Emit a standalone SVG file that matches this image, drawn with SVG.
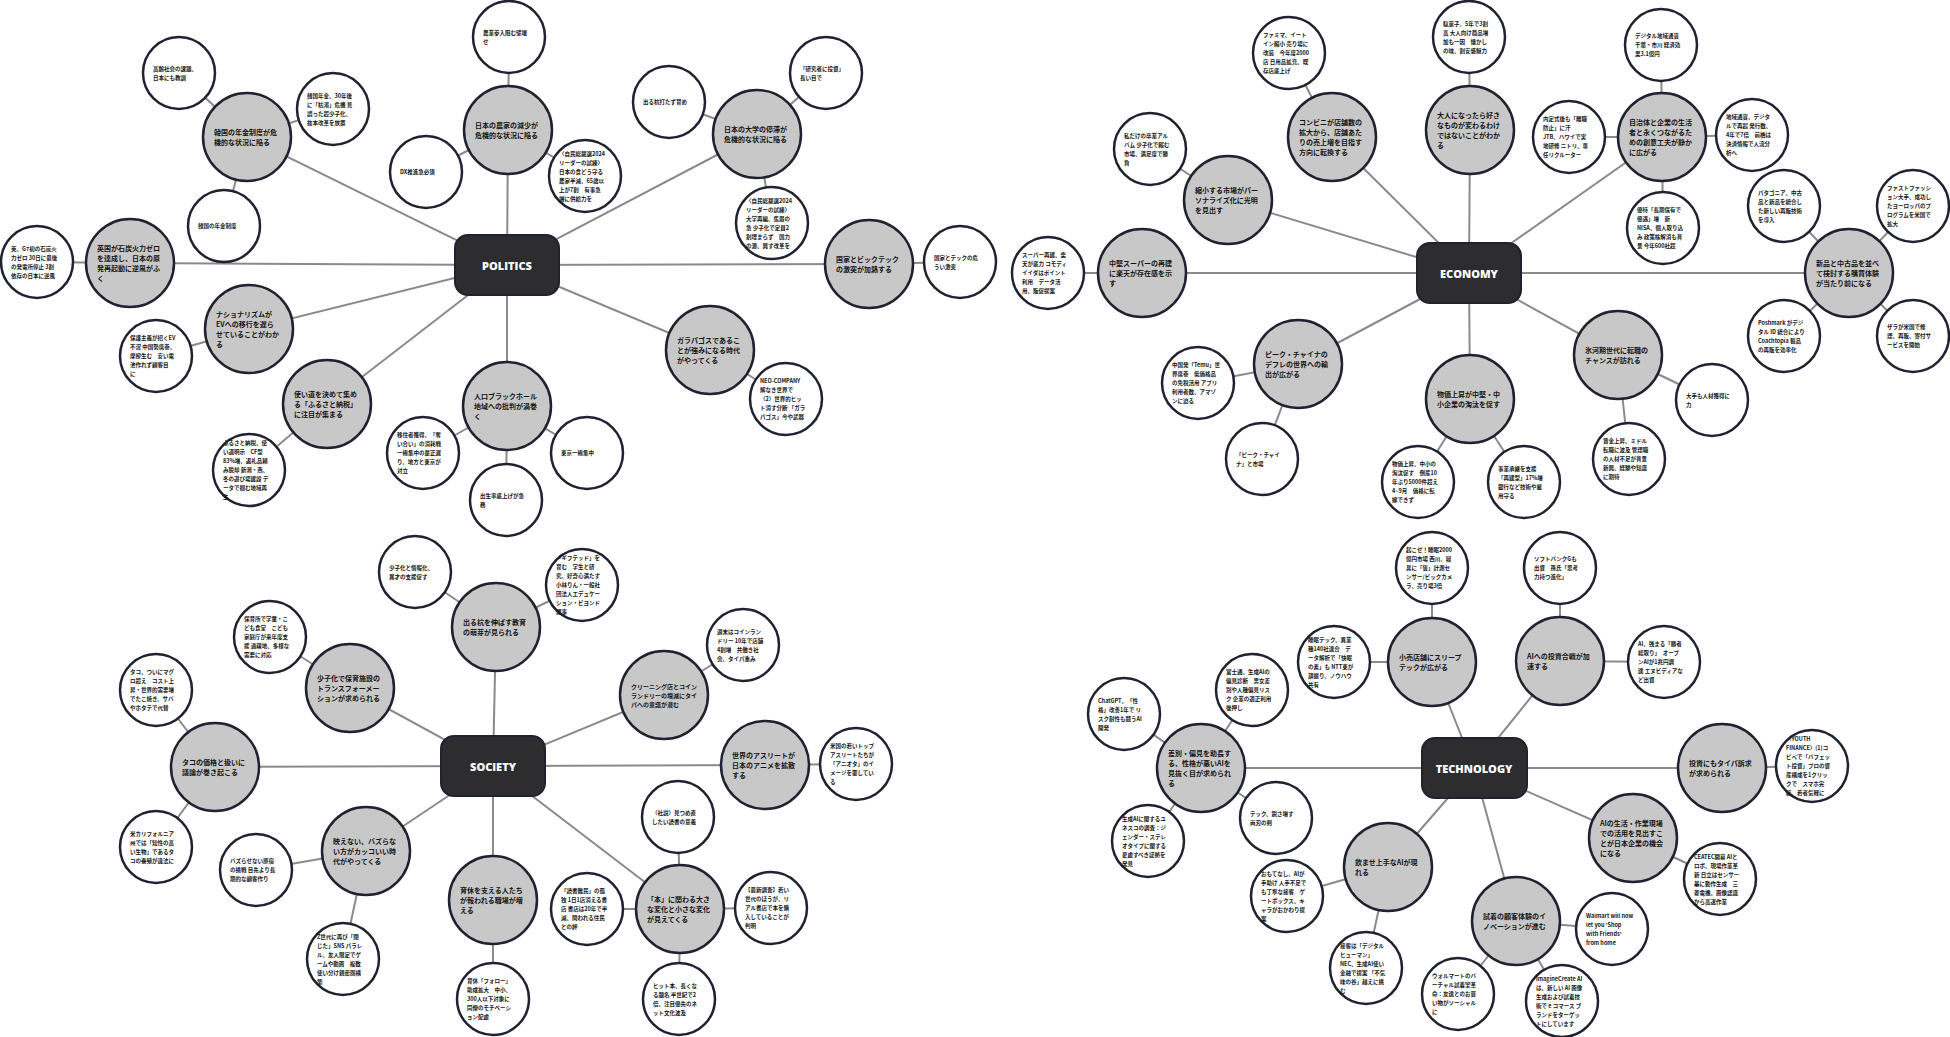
<svg xmlns="http://www.w3.org/2000/svg" width="1950" height="1037" viewBox="0 0 1950 1037">
<style>
.bg{fill:#fff}
#edges line{stroke:#8a8a8a;stroke-width:2}
.hub rect{fill:#2d2d30;stroke:#1f2230;stroke-width:2}
.hub text{fill:#fff;font-family:"Open Sans","Noto Sans",sans-serif;font-weight:800;font-size:11px;text-anchor:middle;dominant-baseline:central}
.tp circle{fill:#c8c8c8;stroke:#1f2230;stroke-width:2.5}
.lf circle{fill:#fff;stroke:#1f2230;stroke-width:2.5}
.tp text{font-family:"Noto Sans CJK JP","Noto Sans",sans-serif;font-weight:700;font-size:7px;fill:#151515;dominant-baseline:central}
.lf text{font-family:"Noto Sans CJK JP","Noto Sans",sans-serif;font-weight:700;font-size:5.5px;fill:#151515;dominant-baseline:central}
</style>
<rect class="bg" x="0" y="0" width="1950" height="1037"/>
<g id="edges">
<!-- politics -->
<line x1="507" y1="265" x2="247" y2="137"/><line x1="247" y1="137" x2="179" y2="73"/><line x1="247" y1="137" x2="333" y2="109"/><line x1="247" y1="137" x2="224" y2="226"/>
<line x1="507" y1="265" x2="130" y2="263"/><line x1="130" y1="263" x2="37" y2="262"/>
<line x1="507" y1="265" x2="249" y2="329"/><line x1="249" y1="329" x2="156" y2="356"/>
<line x1="507" y1="265" x2="327" y2="404"/><line x1="327" y1="404" x2="249" y2="470"/>
<line x1="507" y1="265" x2="507" y2="406"/><line x1="507" y1="406" x2="423" y2="453"/><line x1="507" y1="406" x2="587" y2="453"/><line x1="507" y1="406" x2="506" y2="500"/>
<line x1="507" y1="265" x2="710" y2="350"/><line x1="710" y1="350" x2="786" y2="399"/>
<line x1="507" y1="265" x2="869" y2="264"/><line x1="869" y1="264" x2="960" y2="262"/>
<line x1="507" y1="265" x2="757" y2="134"/><line x1="757" y1="134" x2="669" y2="102"/><line x1="757" y1="134" x2="826" y2="73"/><line x1="757" y1="134" x2="772" y2="223"/>
<line x1="507" y1="265" x2="508" y2="130"/><line x1="508" y1="130" x2="509" y2="37"/><line x1="508" y1="130" x2="426" y2="172"/><line x1="508" y1="130" x2="585" y2="176"/>
<!-- economy -->
<line x1="1469" y1="273" x2="1142" y2="273"/><line x1="1142" y1="273" x2="1048" y2="273"/>
<line x1="1469" y1="273" x2="1228" y2="200"/><line x1="1228" y1="200" x2="1150" y2="149"/>
<line x1="1469" y1="273" x2="1332" y2="137"/><line x1="1332" y1="137" x2="1289" y2="53"/>
<line x1="1469" y1="273" x2="1470" y2="130"/><line x1="1470" y1="130" x2="1469" y2="37"/>
<line x1="1469" y1="273" x2="1662" y2="137"/><line x1="1662" y1="137" x2="1661" y2="45"/><line x1="1662" y1="137" x2="1569" y2="137"/><line x1="1662" y1="137" x2="1752" y2="135"/><line x1="1662" y1="137" x2="1663" y2="228"/>
<line x1="1469" y1="273" x2="1849" y2="273"/><line x1="1849" y1="273" x2="1784" y2="206"/><line x1="1849" y1="273" x2="1913" y2="206"/><line x1="1849" y1="273" x2="1784" y2="336"/><line x1="1849" y1="273" x2="1913" y2="336"/>
<line x1="1469" y1="273" x2="1618" y2="355"/><line x1="1618" y1="355" x2="1712" y2="400"/><line x1="1618" y1="355" x2="1629" y2="459"/>
<line x1="1469" y1="273" x2="1470" y2="399"/><line x1="1470" y1="399" x2="1418" y2="482"/><line x1="1470" y1="399" x2="1524" y2="482"/>
<line x1="1469" y1="273" x2="1298" y2="364"/><line x1="1298" y1="364" x2="1198" y2="383"/><line x1="1298" y1="364" x2="1262" y2="459"/>
<!-- society -->
<line x1="493" y1="766" x2="215" y2="767"/><line x1="215" y1="767" x2="156" y2="690"/><line x1="215" y1="767" x2="156" y2="847"/>
<line x1="493" y1="766" x2="350" y2="688"/><line x1="350" y1="688" x2="270" y2="637"/>
<line x1="493" y1="766" x2="496" y2="627"/><line x1="496" y1="627" x2="415" y2="572"/><line x1="496" y1="627" x2="582" y2="585"/>
<line x1="493" y1="766" x2="664" y2="695"/><line x1="664" y1="695" x2="743" y2="645"/>
<line x1="493" y1="766" x2="765" y2="765"/><line x1="765" y1="765" x2="856" y2="764"/>
<line x1="493" y1="766" x2="680" y2="909"/><line x1="680" y1="909" x2="678" y2="817"/><line x1="680" y1="909" x2="587" y2="909"/><line x1="680" y1="909" x2="771" y2="908"/><line x1="680" y1="909" x2="679" y2="999"/>
<line x1="493" y1="766" x2="493" y2="900"/><line x1="493" y1="900" x2="493" y2="999"/>
<line x1="493" y1="766" x2="366" y2="851"/><line x1="366" y1="851" x2="256" y2="870"/><line x1="366" y1="851" x2="343" y2="959"/>
<!-- technology -->
<line x1="1474" y1="768" x2="1201" y2="768"/><line x1="1201" y1="768" x2="1124" y2="714"/><line x1="1201" y1="768" x2="1252" y2="690"/><line x1="1201" y1="768" x2="1148" y2="841"/><line x1="1201" y1="768" x2="1276" y2="818"/>
<line x1="1474" y1="768" x2="1432" y2="662"/><line x1="1432" y1="662" x2="1432" y2="568"/><line x1="1432" y1="662" x2="1334" y2="662"/>
<line x1="1474" y1="768" x2="1560" y2="661"/><line x1="1560" y1="661" x2="1560" y2="568"/><line x1="1560" y1="661" x2="1664" y2="662"/>
<line x1="1474" y1="768" x2="1722" y2="768"/><line x1="1722" y1="768" x2="1812" y2="766"/>
<line x1="1474" y1="768" x2="1633" y2="838"/><line x1="1633" y1="838" x2="1720" y2="879"/>
<line x1="1474" y1="768" x2="1516" y2="921"/><line x1="1516" y1="921" x2="1612" y2="929"/><line x1="1516" y1="921" x2="1562" y2="1001"/><line x1="1516" y1="921" x2="1458" y2="994"/>
<line x1="1474" y1="768" x2="1388" y2="867"/><line x1="1388" y1="867" x2="1287" y2="896"/><line x1="1388" y1="867" x2="1366" y2="968"/>
</g>

<!-- ===== POLITICS ===== -->
<g id="politics" class="hub"><rect x="455" y="235" width="104" height="60" rx="13"/><text x="507" y="265">POLITICS</text></g>
<g id="p-pension" class="tp"><circle cx="247" cy="137" r="44"/><text x="214" y="132"><tspan x="214">韓国の年金制度が危</tspan><tspan x="214" dy="10">機的な状況に陥る</tspan></text></g>
<g id="p-pension-1" class="lf"><circle cx="179" cy="73" r="36"/><text x="153" y="68.5"><tspan x="153">高齢社会の課題、</tspan><tspan x="153" dy="9">日本にも教訓</tspan></text></g>
<g id="p-pension-2" class="lf"><circle cx="333" cy="109" r="36"/><text x="307" y="95.5"><tspan x="307">韓国年金、30年後</tspan><tspan x="307" dy="9">に「枯渇」危機 見</tspan><tspan x="307" dy="9">誤った超少子化、</tspan><tspan x="307" dy="9">抜本改革を放置</tspan></text></g>
<g id="p-pension-3" class="lf"><circle cx="224" cy="226" r="36"/><text x="198" y="226">韓国の年金制度</text></g>
<g id="p-coal" class="tp"><circle cx="130" cy="263" r="44"/><text x="97" y="248"><tspan x="97">英国が石炭火力ゼロ</tspan><tspan x="97" dy="10">を達成し、日本の原</tspan><tspan x="97" dy="10">発再起動に逆風がふ</tspan><tspan x="97" dy="10">く</tspan></text></g>
<g id="p-coal-1" class="lf"><circle cx="37" cy="262" r="36"/><text x="11" y="248.5"><tspan x="11">英、G7初の石炭火</tspan><tspan x="11" dy="9">力ゼロ 30日に最後</tspan><tspan x="11" dy="9">の発電所停止 3割</tspan><tspan x="11" dy="9">依存の日本に逆風</tspan></text></g>
<g id="p-ev" class="tp"><circle cx="249" cy="329" r="44"/><text x="216" y="314"><tspan x="216">ナショナリズムが</tspan><tspan x="216" dy="10">EVへの移行を遅ら</tspan><tspan x="216" dy="10">せていることがわか</tspan><tspan x="216" dy="10">る</tspan></text></g>
<g id="p-ev-1" class="lf"><circle cx="156" cy="356" r="36"/><text x="130" y="338"><tspan x="130">保護主義が招くEV</tspan><tspan x="130" dy="9">不況 中国勢席巻、</tspan><tspan x="130" dy="9">摩擦生む　安い電</tspan><tspan x="130" dy="9">池作れず顧客目</tspan><tspan x="130" dy="9">に</tspan></text></g>
<g id="p-furusato" class="tp"><circle cx="327" cy="404" r="44"/><text x="294" y="394"><tspan x="294">使い道を決めて集め</tspan><tspan x="294" dy="10">る「ふるさと納税」</tspan><tspan x="294" dy="10">に注目が集まる</tspan></text></g>
<g id="p-furusato-1" class="lf"><circle cx="249" cy="470" r="36"/><text x="223" y="443"><tspan x="223">ふるさと納税、使</tspan><tspan x="223" dy="9">い道明示　CF型</tspan><tspan x="223" dy="9">83%増、返礼品頼</tspan><tspan x="223" dy="9">み脱却 新潟・燕、</tspan><tspan x="223" dy="9">冬の遊び場建設 デ</tspan><tspan x="223" dy="9">ータで掴む地域再</tspan><tspan x="223" dy="9">生</tspan></text></g>
<g id="p-blackhole" class="tp"><circle cx="507" cy="406" r="44"/><text x="474" y="396"><tspan x="474">人口ブラックホール</tspan><tspan x="474" dy="10">地域への批判が渦巻</tspan><tspan x="474" dy="10">く</tspan></text></g>
<g id="p-blackhole-1" class="lf"><circle cx="423" cy="453" r="36"/><text x="397" y="435"><tspan x="397">移住者獲得、「奪</tspan><tspan x="397" dy="9">い合い」の消耗戦</tspan><tspan x="397" dy="9">一極集中の是正遅</tspan><tspan x="397" dy="9">り、地方と東京が</tspan><tspan x="397" dy="9">対立</tspan></text></g>
<g id="p-blackhole-2" class="lf"><circle cx="587" cy="453" r="36"/><text x="561" y="453">東京一極集中</text></g>
<g id="p-blackhole-3" class="lf"><circle cx="506" cy="500" r="36"/><text x="480" y="496"><tspan x="480">出生率底上げが急</tspan><tspan x="480" dy="9">務</tspan></text></g>
<g id="p-galapagos" class="tp"><circle cx="710" cy="350" r="44"/><text x="677" y="340"><tspan x="677">ガラパゴスであるこ</tspan><tspan x="677" dy="10">とが強みになる時代</tspan><tspan x="677" dy="10">がやってくる</tspan></text></g>
<g id="p-galapagos-1" class="lf"><circle cx="786" cy="399" r="36"/><text x="760" y="381"><tspan x="760">NEO-COMPANY</tspan><tspan x="760" dy="9">解なき世界で</tspan><tspan x="760" dy="9">（2）世界的ヒッ</tspan><tspan x="760" dy="9">ト消す分断 「ガラ</tspan><tspan x="760" dy="9">パゴス」今や武器</tspan></text></g>
<g id="p-bigtech" class="tp"><circle cx="869" cy="264" r="44"/><text x="836" y="259"><tspan x="836">国家とビックテック</tspan><tspan x="836" dy="10">の激突が加熱する</tspan></text></g>
<g id="p-bigtech-1" class="lf"><circle cx="960" cy="262" r="36"/><text x="934" y="257.5"><tspan x="934">国家とテックの危</tspan><tspan x="934" dy="9">うい激突</tspan></text></g>
<g id="p-univ" class="tp"><circle cx="757" cy="134" r="44"/><text x="724" y="129"><tspan x="724">日本の大学の停滞が</tspan><tspan x="724" dy="10">危機的な状況に陥る</tspan></text></g>
<g id="p-univ-1" class="lf"><circle cx="669" cy="102" r="36"/><text x="643" y="102">出る杭打たず育め</text></g>
<g id="p-univ-2" class="lf"><circle cx="826" cy="73" r="36"/><text x="800" y="68.5"><tspan x="800">「研究者に投資」</tspan><tspan x="800" dy="9">長い目で</tspan></text></g>
<g id="p-univ-3" class="lf"><circle cx="772" cy="223" r="36"/><text x="746" y="200.5"><tspan x="746">〈自民総裁選2024</tspan><tspan x="746" dy="9">リーダーの試練〉</tspan><tspan x="746" dy="9">大学再編、焦眉の</tspan><tspan x="746" dy="9">急 少子化で定員2</tspan><tspan x="746" dy="9">割埋まらず　国力</tspan><tspan x="746" dy="9">の源、興す改革を</tspan></text></g>
<g id="p-farm" class="tp"><circle cx="508" cy="130" r="44"/><text x="475" y="125"><tspan x="475">日本の農家の減少が</tspan><tspan x="475" dy="10">危機的な状況に陥る</tspan></text></g>
<g id="p-farm-1" class="lf"><circle cx="509" cy="37" r="36"/><text x="483" y="32.5"><tspan x="483">農業参入阻む壁壊</tspan><tspan x="483" dy="9">せ</tspan></text></g>
<g id="p-farm-2" class="lf"><circle cx="426" cy="172" r="36"/><text x="400" y="172">DX推進急必須</text></g>
<g id="p-farm-3" class="lf"><circle cx="585" cy="176" r="36"/><text x="559" y="153.5"><tspan x="559">〈自民総裁選2024</tspan><tspan x="559" dy="9">リーダーの試練〉</tspan><tspan x="559" dy="9">日本の食どう守る</tspan><tspan x="559" dy="9">農家半減、65歳以</tspan><tspan x="559" dy="9">上が7割　有事急</tspan><tspan x="559" dy="9">増に供給力を</tspan></text></g>

<!-- ===== ECONOMY ===== -->
<g id="economy" class="hub"><rect x="1417" y="243" width="104" height="60" rx="13"/><text x="1469" y="273">ECONOMY</text></g>
<g id="e-super" class="tp"><circle cx="1142" cy="273" r="44"/><text x="1109" y="263"><tspan x="1109">中堅スーパーの再建</tspan><tspan x="1109" dy="10">に楽天が存在感を示</tspan><tspan x="1109" dy="10">す</tspan></text></g>
<g id="e-super-1" class="lf"><circle cx="1048" cy="273" r="36"/><text x="1022" y="255"><tspan x="1022">スーパー再建、楽</tspan><tspan x="1022" dy="9">天が底力 コモディ</tspan><tspan x="1022" dy="9">イイダはポイント</tspan><tspan x="1022" dy="9">利用　データ活</tspan><tspan x="1022" dy="9">用、販促提案</tspan></text></g>
<g id="e-personal" class="tp"><circle cx="1228" cy="200" r="44"/><text x="1195" y="190"><tspan x="1195">縮小する市場がパー</tspan><tspan x="1195" dy="10">ソナライズ化に光明</tspan><tspan x="1195" dy="10">を見出す</tspan></text></g>
<g id="e-personal-1" class="lf"><circle cx="1150" cy="149" r="36"/><text x="1124" y="135.5"><tspan x="1124">私だけの卒業アル</tspan><tspan x="1124" dy="9">バム 少子化で縮む</tspan><tspan x="1124" dy="9">市場、満足度で勝</tspan><tspan x="1124" dy="9">負</tspan></text></g>
<g id="e-conbini" class="tp"><circle cx="1332" cy="137" r="44"/><text x="1299" y="122"><tspan x="1299">コンビニが店舗数の</tspan><tspan x="1299" dy="10">拡大から、店舗あた</tspan><tspan x="1299" dy="10">りの売上増を目指す</tspan><tspan x="1299" dy="10">方向に転換する</tspan></text></g>
<g id="e-conbini-1" class="lf"><circle cx="1289" cy="53" r="36"/><text x="1263" y="35"><tspan x="1263">ファミマ、イート</tspan><tspan x="1263" dy="9">イン縮小 売り場に</tspan><tspan x="1263" dy="9">改装　今年度2000</tspan><tspan x="1263" dy="9">店 日用品拡充、既</tspan><tspan x="1263" dy="9">存店底上げ</tspan></text></g>
<g id="e-adult" class="tp"><circle cx="1470" cy="130" r="44"/><text x="1437" y="115"><tspan x="1437">大人になったら好き</tspan><tspan x="1437" dy="10">なものが変わるわけ</tspan><tspan x="1437" dy="10">ではないことがわか</tspan><tspan x="1437" dy="10">る</tspan></text></g>
<g id="e-adult-1" class="lf"><circle cx="1469" cy="37" r="36"/><text x="1443" y="23.5"><tspan x="1443">駄菓子、5年で3割</tspan><tspan x="1443" dy="9">高 大人向け商品増</tspan><tspan x="1443" dy="9">加も一因　懐かし</tspan><tspan x="1443" dy="9">の味、割安感魅力</tspan></text></g>
<g id="e-local" class="tp"><circle cx="1662" cy="137" r="44"/><text x="1629" y="122"><tspan x="1629">自治体と企業の生活</tspan><tspan x="1629" dy="10">者と永くつながるた</tspan><tspan x="1629" dy="10">めの創意工夫が静か</tspan><tspan x="1629" dy="10">に広がる</tspan></text></g>
<g id="e-local-1" class="lf"><circle cx="1661" cy="45" r="36"/><text x="1635" y="36"><tspan x="1635">デジタル地域通貨</tspan><tspan x="1635" dy="9">千葉・市川 経済効</tspan><tspan x="1635" dy="9">果3.1億円</tspan></text></g>
<g id="e-local-2" class="lf"><circle cx="1569" cy="137" r="36"/><text x="1543" y="119"><tspan x="1543">内定式後も「離職</tspan><tspan x="1543" dy="9">防止」に汗</tspan><tspan x="1543" dy="9">JTB、ハワイで実</tspan><tspan x="1543" dy="9">地研修 ニトリ、専</tspan><tspan x="1543" dy="9">任リクルーター</tspan></text></g>
<g id="e-local-3" class="lf"><circle cx="1752" cy="135" r="36"/><text x="1726" y="117"><tspan x="1726">地域通貨、デジタ</tspan><tspan x="1726" dy="9">ルで再起 発行数、</tspan><tspan x="1726" dy="9">4年で7倍　前橋は</tspan><tspan x="1726" dy="9">決済情報で人流分</tspan><tspan x="1726" dy="9">析へ</tspan></text></g>
<g id="e-local-4" class="lf"><circle cx="1663" cy="228" r="36"/><text x="1637" y="210"><tspan x="1637">優待「長期保有で</tspan><tspan x="1637" dy="9">優遇」増　新</tspan><tspan x="1637" dy="9">NISA、個人取り込</tspan><tspan x="1637" dy="9">み 政策株解消も背</tspan><tspan x="1637" dy="9">景 今年600社超</tspan></text></g>
<g id="e-resale" class="tp"><circle cx="1849" cy="273" r="44"/><text x="1816" y="263"><tspan x="1816">新品と中古品を並べ</tspan><tspan x="1816" dy="10">て検討する購買体験</tspan><tspan x="1816" dy="10">が当たり前になる</tspan></text></g>
<g id="e-resale-1" class="lf"><circle cx="1784" cy="206" r="36"/><text x="1758" y="192.5"><tspan x="1758">パタゴニア、中古</tspan><tspan x="1758" dy="9">品と新品を統合し</tspan><tspan x="1758" dy="9">た新しい再販技術</tspan><tspan x="1758" dy="9">を導入</tspan></text></g>
<g id="e-resale-2" class="lf"><circle cx="1913" cy="206" r="36"/><text x="1887" y="188"><tspan x="1887">ファストファッシ</tspan><tspan x="1887" dy="9">ョン大手、成功し</tspan><tspan x="1887" dy="9">たヨーロッパのプ</tspan><tspan x="1887" dy="9">ログラムを米国で</tspan><tspan x="1887" dy="9">拡大</tspan></text></g>
<g id="e-resale-3" class="lf"><circle cx="1784" cy="336" r="36"/><text x="1758" y="322.5"><tspan x="1758">Poshmark がデジ</tspan><tspan x="1758" dy="9">タル ID 統合により</tspan><tspan x="1758" dy="9">Coachtopia 製品</tspan><tspan x="1758" dy="9">の再販を効率化</tspan></text></g>
<g id="e-resale-4" class="lf"><circle cx="1913" cy="336" r="36"/><text x="1887" y="327"><tspan x="1887">ザラが米国で修</tspan><tspan x="1887" dy="9">理、再販、寄付サ</tspan><tspan x="1887" dy="9">ービスを開始</tspan></text></g>
<g id="e-iceage" class="tp"><circle cx="1618" cy="355" r="44"/><text x="1585" y="350"><tspan x="1585">氷河期世代に転職の</tspan><tspan x="1585" dy="10">チャンスが訪れる</tspan></text></g>
<g id="e-iceage-1" class="lf"><circle cx="1712" cy="400" r="36"/><text x="1686" y="395.5"><tspan x="1686">大手も人材獲得に</tspan><tspan x="1686" dy="9">力</tspan></text></g>
<g id="e-iceage-2" class="lf"><circle cx="1629" cy="459" r="36"/><text x="1603" y="441"><tspan x="1603">賃金上昇、ミドル</tspan><tspan x="1603" dy="9">転職に波及 管理職</tspan><tspan x="1603" dy="9">の人材不足が背景</tspan><tspan x="1603" dy="9">新興、経験や知識</tspan><tspan x="1603" dy="9">に期待</tspan></text></g>
<g id="e-price" class="tp"><circle cx="1470" cy="399" r="44"/><text x="1437" y="394"><tspan x="1437">物価上昇が中堅・中</tspan><tspan x="1437" dy="10">小企業の淘汰を促す</tspan></text></g>
<g id="e-price-1" class="lf"><circle cx="1418" cy="482" r="36"/><text x="1392" y="464"><tspan x="1392">物価上昇、中小の</tspan><tspan x="1392" dy="9">淘汰促す　倒産10</tspan><tspan x="1392" dy="9">年ぶり5000件超え</tspan><tspan x="1392" dy="9">4~9月　価格に転</tspan><tspan x="1392" dy="9">嫁できず</tspan></text></g>
<g id="e-price-2" class="lf"><circle cx="1524" cy="482" r="36"/><text x="1498" y="468.5"><tspan x="1498">事業承継を支援</tspan><tspan x="1498" dy="9">「再建型」17%増</tspan><tspan x="1498" dy="9">銀行など技術や雇</tspan><tspan x="1498" dy="9">用守る</tspan></text></g>
<g id="e-china" class="tp"><circle cx="1298" cy="364" r="44"/><text x="1265" y="354"><tspan x="1265">ピーク・チャイナの</tspan><tspan x="1265" dy="10">デフレの世界への輸</tspan><tspan x="1265" dy="10">出が広がる</tspan></text></g>
<g id="e-china-1" class="lf"><circle cx="1198" cy="383" r="36"/><text x="1172" y="365"><tspan x="1172">中国発「Temu」世</tspan><tspan x="1172" dy="9">界席巻　低価格品</tspan><tspan x="1172" dy="9">の免税活用 アプリ</tspan><tspan x="1172" dy="9">利用者数、アマゾ</tspan><tspan x="1172" dy="9">ンに迫る</tspan></text></g>
<g id="e-china-2" class="lf"><circle cx="1262" cy="459" r="36"/><text x="1236" y="454.5"><tspan x="1236">「ピーク・チャイ</tspan><tspan x="1236" dy="9">ナ」と市場</tspan></text></g>

<!-- ===== SOCIETY ===== -->
<g id="society" class="hub"><rect x="441" y="736" width="104" height="60" rx="13"/><text x="493" y="766">SOCIETY</text></g>
<g id="s-octopus" class="tp"><circle cx="215" cy="767" r="44"/><text x="182" y="762"><tspan x="182">タコの価格と扱いに</tspan><tspan x="182" dy="10">議論が巻き起こる</tspan></text></g>
<g id="s-octopus-1" class="lf"><circle cx="156" cy="690" r="36"/><text x="130" y="672"><tspan x="130">タコ、ついにマグ</tspan><tspan x="130" dy="9">ロ超え　コスト上</tspan><tspan x="130" dy="9">昇・世界的需要増</tspan><tspan x="130" dy="9">でたこ焼き、サバ</tspan><tspan x="130" dy="9">やホタテで代替</tspan></text></g>
<g id="s-octopus-2" class="lf"><circle cx="156" cy="847" r="36"/><text x="130" y="833.5"><tspan x="130">米カリフォルニア</tspan><tspan x="130" dy="9">州では「知性の高</tspan><tspan x="130" dy="9">い生物」であるタ</tspan><tspan x="130" dy="9">コの養殖が違法に</tspan></text></g>
<g id="s-nursery" class="tp"><circle cx="350" cy="688" r="44"/><text x="317" y="678"><tspan x="317">少子化で保育施設の</tspan><tspan x="317" dy="10">トランスフォーメー</tspan><tspan x="317" dy="10">ションが求められる</tspan></text></g>
<g id="s-nursery-1" class="lf"><circle cx="270" cy="637" r="36"/><text x="244" y="619"><tspan x="244">保育所で学童・こ</tspan><tspan x="244" dy="9">ども食堂　こども</tspan><tspan x="244" dy="9">家庭庁が来年度支</tspan><tspan x="244" dy="9">援 過疎地、多様な</tspan><tspan x="244" dy="9">需要に対応</tspan></text></g>
<g id="s-gifted" class="tp"><circle cx="496" cy="627" r="44"/><text x="463" y="622"><tspan x="463">出る杭を伸ばす教育</tspan><tspan x="463" dy="10">の萌芽が見られる</tspan></text></g>
<g id="s-gifted-1" class="lf"><circle cx="415" cy="572" r="36"/><text x="389" y="567.5"><tspan x="389">少子化と情報化、</tspan><tspan x="389" dy="9">異才の支援促す</tspan></text></g>
<g id="s-gifted-2" class="lf"><circle cx="582" cy="585" r="36"/><text x="556" y="558"><tspan x="556">「ギフテッド」を</tspan><tspan x="556" dy="9">育む　学生と研</tspan><tspan x="556" dy="9">究、好奇心満たす</tspan><tspan x="556" dy="9">小林りん・一般社</tspan><tspan x="556" dy="9">団法人エデュケー</tspan><tspan x="556" dy="9">ション・ビヨンド</tspan><tspan x="556" dy="9">理事</tspan></text></g>
<g id="s-laundry" class="tp"><circle cx="664" cy="695" r="44"/><text x="631" y="686" style="font-size:6px"><tspan x="631">クリーニング店とコイン</tspan><tspan x="631" dy="9">ランドリーの増減にタイ</tspan><tspan x="631" dy="9">パへの意識が潜む</tspan></text></g>
<g id="s-laundry-1" class="lf"><circle cx="743" cy="645" r="36"/><text x="717" y="631.5"><tspan x="717">週末はコインラン</tspan><tspan x="717" dy="9">ドリー 10年で店舗</tspan><tspan x="717" dy="9">4割増　共働き社</tspan><tspan x="717" dy="9">会、タイパ重み</tspan></text></g>
<g id="s-anime" class="tp"><circle cx="765" cy="765" r="44"/><text x="732" y="755"><tspan x="732">世界のアスリートが</tspan><tspan x="732" dy="10">日本のアニメを拡散</tspan><tspan x="732" dy="10">する</tspan></text></g>
<g id="s-anime-1" class="lf"><circle cx="856" cy="764" r="36"/><text x="830" y="746"><tspan x="830">米国の若いトップ</tspan><tspan x="830" dy="9">アスリートたちが</tspan><tspan x="830" dy="9">「アニオタ」のイ</tspan><tspan x="830" dy="9">メージを覆してい</tspan><tspan x="830" dy="9">る</tspan></text></g>
<g id="s-book" class="tp"><circle cx="680" cy="909" r="44"/><text x="647" y="899"><tspan x="647">「本」に関わる大き</tspan><tspan x="647" dy="10">な変化と小さな変化</tspan><tspan x="647" dy="10">が見えてくる</tspan></text></g>
<g id="s-book-1" class="lf"><circle cx="678" cy="817" r="36"/><text x="652" y="812.5"><tspan x="652">（社説）見つめ直</tspan><tspan x="652" dy="9">したい読書の意義</tspan></text></g>
<g id="s-book-2" class="lf"><circle cx="587" cy="909" r="36"/><text x="561" y="891"><tspan x="561">「読書難民」の孤</tspan><tspan x="561" dy="9">独 1日1店消える書</tspan><tspan x="561" dy="9">店 書店は20年で半</tspan><tspan x="561" dy="9">減、問われる住民</tspan><tspan x="561" dy="9">との絆</tspan></text></g>
<g id="s-book-3" class="lf"><circle cx="771" cy="908" r="36"/><text x="745" y="890"><tspan x="745">【最新調査】若い</tspan><tspan x="745" dy="9">世代のほうが、リ</tspan><tspan x="745" dy="9">アル書店で本を購</tspan><tspan x="745" dy="9">入していることが</tspan><tspan x="745" dy="9">判明</tspan></text></g>
<g id="s-book-4" class="lf"><circle cx="679" cy="999" r="36"/><text x="653" y="985.5"><tspan x="653">ヒット本、長くな</tspan><tspan x="653" dy="9">る題名 半世紀で2</tspan><tspan x="653" dy="9">倍、注目優先のネ</tspan><tspan x="653" dy="9">ット文化波及</tspan></text></g>
<g id="s-leave" class="tp"><circle cx="493" cy="900" r="44"/><text x="460" y="890"><tspan x="460">育休を支える人たち</tspan><tspan x="460" dy="10">が報われる職場が増</tspan><tspan x="460" dy="10">える</tspan></text></g>
<g id="s-leave-1" class="lf"><circle cx="493" cy="999" r="36"/><text x="467" y="981"><tspan x="467">育休「フォロー」</tspan><tspan x="467" dy="9">助成拡大　中小、</tspan><tspan x="467" dy="9">300人以下対象に</tspan><tspan x="467" dy="9">同僚のモチベーシ</tspan><tspan x="467" dy="9">ョン配慮</tspan></text></g>
<g id="s-buzz" class="tp"><circle cx="366" cy="851" r="44"/><text x="333" y="841"><tspan x="333">映えない、バズらな</tspan><tspan x="333" dy="10">い方がカッコいい時</tspan><tspan x="333" dy="10">代がやってくる</tspan></text></g>
<g id="s-buzz-1" class="lf"><circle cx="256" cy="870" r="36"/><text x="230" y="861"><tspan x="230">バズらせない原宿</tspan><tspan x="230" dy="9">の挑戦 目先より長</tspan><tspan x="230" dy="9">期的な顧客作り</tspan></text></g>
<g id="s-buzz-2" class="lf"><circle cx="343" cy="959" r="36"/><text x="317" y="936.5"><tspan x="317">Z世代に再び「閉</tspan><tspan x="317" dy="9">じた」SNS パラレ</tspan><tspan x="317" dy="9">ル、友人限定でゲ</tspan><tspan x="317" dy="9">ームや動画　複数</tspan><tspan x="317" dy="9">使い分け親密圏構</tspan><tspan x="317" dy="9">築</tspan></text></g>

<!-- ===== TECHNOLOGY ===== -->
<g id="technology" class="hub"><rect x="1422" y="738" width="105" height="60" rx="13"/><text x="1474" y="768">TECHNOLOGY</text></g>
<g id="t-bias" class="tp"><circle cx="1201" cy="768" r="44"/><text x="1168" y="753"><tspan x="1168">差別・偏見を助長す</tspan><tspan x="1168" dy="10">る、性格が悪いAIを</tspan><tspan x="1168" dy="10">見抜く目が求められ</tspan><tspan x="1168" dy="10">る</tspan></text></g>
<g id="t-bias-1" class="lf"><circle cx="1124" cy="714" r="36"/><text x="1098" y="700.5"><tspan x="1098">ChatGPT、「性</tspan><tspan x="1098" dy="9">格」改善1年で リ</tspan><tspan x="1098" dy="9">スク耐性も競うAI</tspan><tspan x="1098" dy="9">開発</tspan></text></g>
<g id="t-bias-2" class="lf"><circle cx="1252" cy="690" r="36"/><text x="1226" y="672"><tspan x="1226">富士通、生成AIの</tspan><tspan x="1226" dy="9">偏見診断　男女差</tspan><tspan x="1226" dy="9">別や人種偏見リス</tspan><tspan x="1226" dy="9">ク 企業の適正利用</tspan><tspan x="1226" dy="9">後押し</tspan></text></g>
<g id="t-bias-3" class="lf"><circle cx="1148" cy="841" r="36"/><text x="1122" y="818.5"><tspan x="1122">生成AIに関するユ</tspan><tspan x="1122" dy="9">ネスコの調査：ジ</tspan><tspan x="1122" dy="9">ェンダー・ステレ</tspan><tspan x="1122" dy="9">オタイプに関する</tspan><tspan x="1122" dy="9">憂慮すべき証拠を</tspan><tspan x="1122" dy="9">発見</tspan></text></g>
<g id="t-bias-4" class="lf"><circle cx="1276" cy="818" r="36"/><text x="1250" y="813.5"><tspan x="1250">テック、鋭さ増す</tspan><tspan x="1250" dy="9">両刃の剣</tspan></text></g>
<g id="t-sleep" class="tp"><circle cx="1432" cy="662" r="44"/><text x="1399" y="657"><tspan x="1399">小売店舗にスリープ</tspan><tspan x="1399" dy="10">テックが広がる</tspan></text></g>
<g id="t-sleep-1" class="lf"><circle cx="1432" cy="568" r="36"/><text x="1406" y="550"><tspan x="1406">起こせ！睡眠2000</tspan><tspan x="1406" dy="9">億円市場 西川、寝</tspan><tspan x="1406" dy="9">具に「質」計測セ</tspan><tspan x="1406" dy="9">ンサー/ビックカメ</tspan><tspan x="1406" dy="9">ラ、売り場3倍</tspan></text></g>
<g id="t-sleep-2" class="lf"><circle cx="1334" cy="662" r="36"/><text x="1308" y="639.5"><tspan x="1308">睡眠テック、異業</tspan><tspan x="1308" dy="9">種140社連合　デ</tspan><tspan x="1308" dy="9">ータ解析で「快眠</tspan><tspan x="1308" dy="9">の素」も NTT東が</tspan><tspan x="1308" dy="9">旗振り、ノウハウ</tspan><tspan x="1308" dy="9">共有</tspan></text></g>
<g id="t-aiinvest" class="tp"><circle cx="1560" cy="661" r="44"/><text x="1527" y="656"><tspan x="1527">AIへの投資合戦が加</tspan><tspan x="1527" dy="10">速する</tspan></text></g>
<g id="t-aiinvest-1" class="lf"><circle cx="1560" cy="568" r="36"/><text x="1534" y="559"><tspan x="1534">ソフトバンクGも</tspan><tspan x="1534" dy="9">出資　孫氏「思考</tspan><tspan x="1534" dy="9">力持つ進化」</tspan></text></g>
<g id="t-aiinvest-2" class="lf"><circle cx="1664" cy="662" r="36"/><text x="1638" y="644"><tspan x="1638">AI、強まる「勝者</tspan><tspan x="1638" dy="9">総取り」　オープ</tspan><tspan x="1638" dy="9">ンAIが1兆円調</tspan><tspan x="1638" dy="9">達 エヌビディアな</tspan><tspan x="1638" dy="9">ど出資</tspan></text></g>
<g id="t-taipa" class="tp"><circle cx="1722" cy="768" r="44"/><text x="1689" y="763"><tspan x="1689">投資にもタイパ訴求</tspan><tspan x="1689" dy="10">が求められる</tspan></text></g>
<g id="t-taipa-1" class="lf"><circle cx="1812" cy="766" r="36"/><text x="1786" y="739"><tspan x="1786">〈YOUTH</tspan><tspan x="1786" dy="9">FINANCE〉(1)コ</tspan><tspan x="1786" dy="9">ピペで「バフェッ</tspan><tspan x="1786" dy="9">ト投資」プロの資</tspan><tspan x="1786" dy="9">産構成を1クリッ</tspan><tspan x="1786" dy="9">クで　スマホ完</tspan><tspan x="1786" dy="9">結、若者気軽に</tspan></text></g>
<g id="t-field" class="tp"><circle cx="1633" cy="838" r="44"/><text x="1600" y="823"><tspan x="1600">AIの生活・作業現場</tspan><tspan x="1600" dy="10">での活用を見出すこ</tspan><tspan x="1600" dy="10">とが日本企業の機会</tspan><tspan x="1600" dy="10">になる</tspan></text></g>
<g id="t-field-1" class="lf"><circle cx="1720" cy="879" r="36"/><text x="1694" y="856.5"><tspan x="1694">CEATEC開幕 AIと</tspan><tspan x="1694" dy="9">ロボ、現場作業革</tspan><tspan x="1694" dy="9">新 日立はセンサー</tspan><tspan x="1694" dy="9">基に動作生成　三</tspan><tspan x="1694" dy="9">菱電機、画像認識</tspan><tspan x="1694" dy="9">から高速作業</tspan></text></g>
<g id="t-tryon" class="tp"><circle cx="1516" cy="921" r="44"/><text x="1483" y="916"><tspan x="1483">試着の顧客体験のイ</tspan><tspan x="1483" dy="10">ノベーションが進む</tspan></text></g>
<g id="t-tryon-1" class="lf"><circle cx="1612" cy="929" r="36"/><text x="1586" y="915.5"><tspan x="1586">Walmart will now</tspan><tspan x="1586" dy="9">let you 'Shop</tspan><tspan x="1586" dy="9">with Friends'</tspan><tspan x="1586" dy="9">from home</tspan></text></g>
<g id="t-tryon-2" class="lf"><circle cx="1562" cy="1001" r="36"/><text x="1536" y="978.5"><tspan x="1536">ImagineCreate AI</tspan><tspan x="1536" dy="9">は、新しい AI 画像</tspan><tspan x="1536" dy="9">生成および試着技</tspan><tspan x="1536" dy="9">術で e コマース ブ</tspan><tspan x="1536" dy="9">ランドをターゲッ</tspan><tspan x="1536" dy="9">トにしています</tspan></text></g>
<g id="t-tryon-3" class="lf"><circle cx="1458" cy="994" r="36"/><text x="1432" y="976"><tspan x="1432">ウォルマートのバ</tspan><tspan x="1432" dy="9">ーチャル試着室革</tspan><tspan x="1432" dy="9">命：友達とのお買</tspan><tspan x="1432" dy="9">い物がソーシャル</tspan><tspan x="1432" dy="9">に</tspan></text></g>
<g id="t-drink" class="tp"><circle cx="1388" cy="867" r="44"/><text x="1355" y="862"><tspan x="1355">飲ませ上手なAIが現</tspan><tspan x="1355" dy="10">れる</tspan></text></g>
<g id="t-drink-1" class="lf"><circle cx="1287" cy="896" r="36"/><text x="1261" y="873.5"><tspan x="1261">おもてなし、AIが</tspan><tspan x="1261" dy="9">手助け 人手不足で</tspan><tspan x="1261" dy="9">も丁寧な接客　ゲ</tspan><tspan x="1261" dy="9">ートボックス、キ</tspan><tspan x="1261" dy="9">ャラがおかわり提</tspan><tspan x="1261" dy="9">案</tspan></text></g>
<g id="t-drink-2" class="lf"><circle cx="1366" cy="968" r="36"/><text x="1340" y="945.5"><tspan x="1340">接客は「デジタル</tspan><tspan x="1340" dy="9">ヒューマン」</tspan><tspan x="1340" dy="9">NEC、生成AI使い</tspan><tspan x="1340" dy="9">金融で提案 「不気</tspan><tspan x="1340" dy="9">味の谷」越えに挑</tspan><tspan x="1340" dy="9">む</tspan></text></g>
</svg>
